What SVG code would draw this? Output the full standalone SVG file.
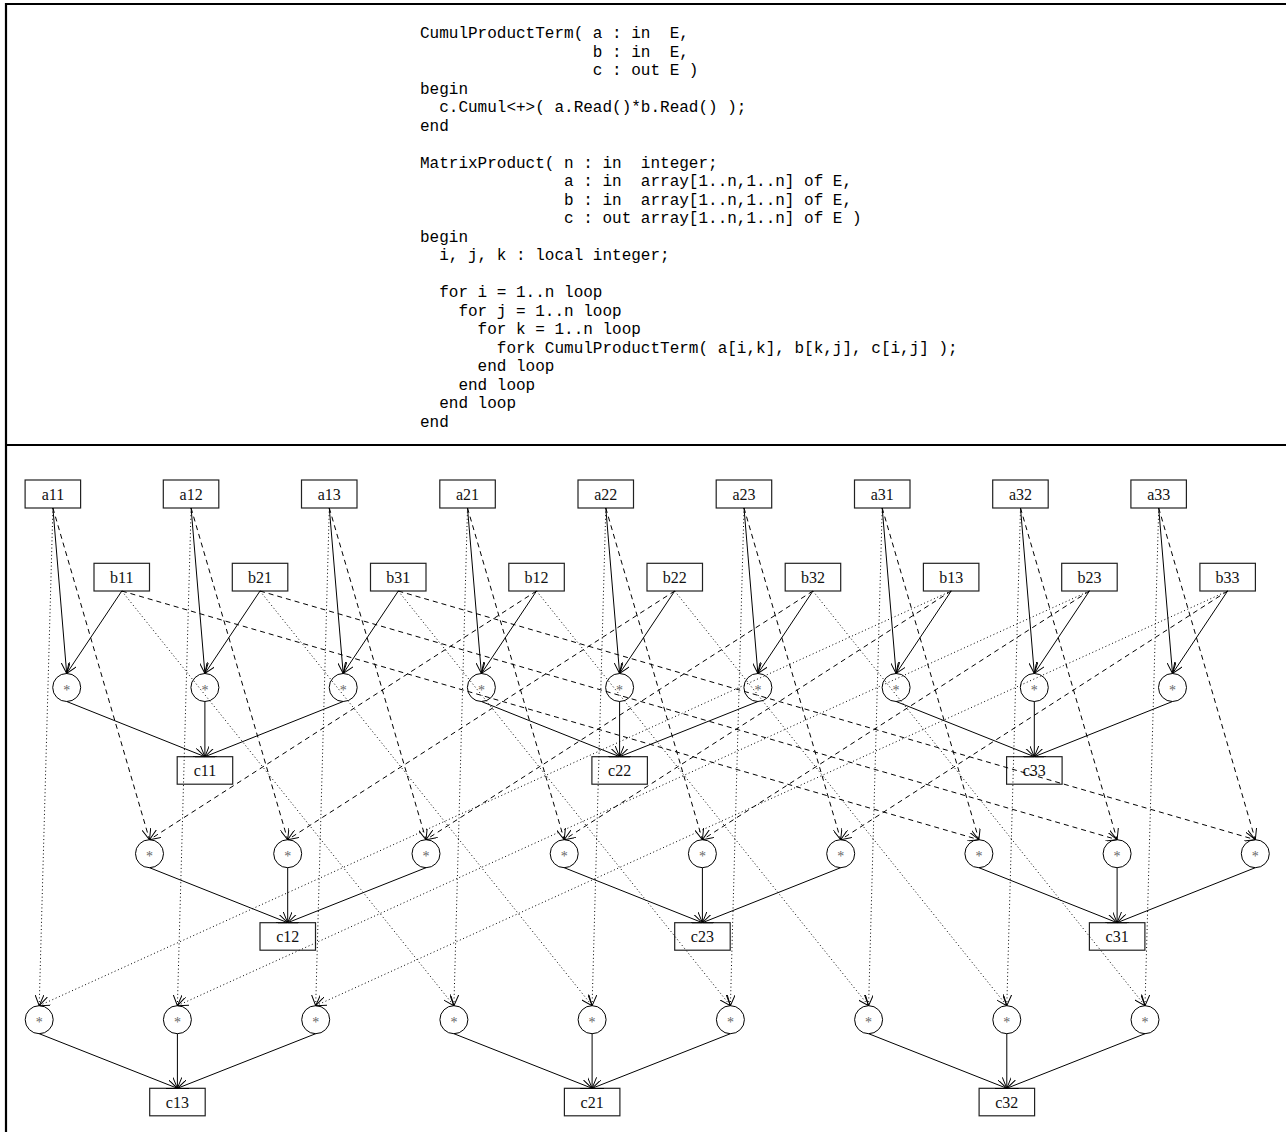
<svg xmlns="http://www.w3.org/2000/svg" width="1286" height="1132" viewBox="0 0 1286 1132" xml:space="preserve">
<style>
.frame{stroke:#000;stroke-width:2.2;fill:none}
.code{font-family:"Liberation Mono","Courier New",monospace;font-size:16px;fill:#000;white-space:pre}
.box{fill:none;stroke:#222;stroke-width:1.2}
.circ{fill:none;stroke:#000;stroke-width:1}
.lbl{font-family:"Liberation Serif","Times New Roman",serif;font-size:16px;fill:#111;text-anchor:middle}
.ast{font-family:"Liberation Serif","Times New Roman",serif;font-size:14px;fill:#666;text-anchor:middle}
.e{fill:none;stroke:#000;stroke-width:1;marker-end:url(#ah)}
.dash{stroke-dasharray:5,4}
.dot{stroke-dasharray:1,2.6}
</style>
<defs>
<marker id="ah" viewBox="0 0 11 9" refX="11" refY="4.5" markerWidth="11" markerHeight="9" markerUnits="userSpaceOnUse" orient="auto">
<path d="M0,0 L11,4.5 L0,9" fill="none" stroke="#000" stroke-width="1" stroke-dasharray="none"/>
</marker>
</defs>
<rect width="1286" height="1132" fill="#fff"/>
<g id="frame">
<path class="frame" d="M6,1132 V4 H1286 M6,445 H1286"/>
</g>
<g id="code">
<text class="code" xml:space="preserve" x="420" y="38">CumulProductTerm( a : in  E,</text>
<text class="code" xml:space="preserve" x="420" y="56.5">                  b : in  E,</text>
<text class="code" xml:space="preserve" x="420" y="75">                  c : out E )</text>
<text class="code" xml:space="preserve" x="420" y="93.5">begin</text>
<text class="code" xml:space="preserve" x="420" y="112">  c.Cumul&lt;+&gt;( a.Read()*b.Read() );</text>
<text class="code" xml:space="preserve" x="420" y="130.5">end</text>
<text class="code" xml:space="preserve" x="420" y="167.5">MatrixProduct( n : in  integer;</text>
<text class="code" xml:space="preserve" x="420" y="186">               a : in  array[1..n,1..n] of E,</text>
<text class="code" xml:space="preserve" x="420" y="204.5">               b : in  array[1..n,1..n] of E,</text>
<text class="code" xml:space="preserve" x="420" y="223">               c : out array[1..n,1..n] of E )</text>
<text class="code" xml:space="preserve" x="420" y="241.5">begin</text>
<text class="code" xml:space="preserve" x="420" y="260">  i, j, k : local integer;</text>
<text class="code" xml:space="preserve" x="420" y="297">  for i = 1..n loop</text>
<text class="code" xml:space="preserve" x="420" y="315.5">    for j = 1..n loop</text>
<text class="code" xml:space="preserve" x="420" y="334">      for k = 1..n loop</text>
<text class="code" xml:space="preserve" x="420" y="352.5">        fork CumulProductTerm( a[i,k], b[k,j], c[i,j] );</text>
<text class="code" xml:space="preserve" x="420" y="371">      end loop</text>
<text class="code" xml:space="preserve" x="420" y="389.5">    end loop</text>
<text class="code" xml:space="preserve" x="420" y="408">  end loop</text>
<text class="code" xml:space="preserve" x="420" y="426.5">end</text>
</g>
<g id="a11"><rect class="box" x="25.1" y="480" width="55.5" height="28"/><text class="lbl" x="52.9" y="499.5">a11</text></g>
<g id="a12"><rect class="box" x="163.3" y="480" width="55.5" height="28"/><text class="lbl" x="191.1" y="499.5">a12</text></g>
<g id="a13"><rect class="box" x="301.5" y="480" width="55.5" height="28"/><text class="lbl" x="329.3" y="499.5">a13</text></g>
<g id="a21"><rect class="box" x="439.8" y="480" width="55.5" height="28"/><text class="lbl" x="467.5" y="499.5">a21</text></g>
<g id="a22"><rect class="box" x="578.0" y="480" width="55.5" height="28"/><text class="lbl" x="605.8" y="499.5">a22</text></g>
<g id="a23"><rect class="box" x="716.2" y="480" width="55.5" height="28"/><text class="lbl" x="744.0" y="499.5">a23</text></g>
<g id="a31"><rect class="box" x="854.5" y="480" width="55.5" height="28"/><text class="lbl" x="882.2" y="499.5">a31</text></g>
<g id="a32"><rect class="box" x="992.7" y="480" width="55.5" height="28"/><text class="lbl" x="1020.5" y="499.5">a32</text></g>
<g id="a33"><rect class="box" x="1130.9" y="480" width="55.5" height="28"/><text class="lbl" x="1158.7" y="499.5">a33</text></g>
<g id="b11"><rect class="box" x="94.0" y="563.3" width="55.5" height="27.7"/><text class="lbl" x="121.8" y="582.7">b11</text></g>
<g id="b21"><rect class="box" x="232.3" y="563.3" width="55.5" height="27.7"/><text class="lbl" x="260.0" y="582.7">b21</text></g>
<g id="b31"><rect class="box" x="370.5" y="563.3" width="55.5" height="27.7"/><text class="lbl" x="398.3" y="582.7">b31</text></g>
<g id="b12"><rect class="box" x="508.8" y="563.3" width="55.5" height="27.7"/><text class="lbl" x="536.5" y="582.7">b12</text></g>
<g id="b22"><rect class="box" x="647.0" y="563.3" width="55.5" height="27.7"/><text class="lbl" x="674.7" y="582.7">b22</text></g>
<g id="b32"><rect class="box" x="785.2" y="563.3" width="55.5" height="27.7"/><text class="lbl" x="812.9" y="582.7">b32</text></g>
<g id="b13"><rect class="box" x="923.4" y="563.3" width="55.5" height="27.7"/><text class="lbl" x="951.2" y="582.7">b13</text></g>
<g id="b23"><rect class="box" x="1061.7" y="563.3" width="55.5" height="27.7"/><text class="lbl" x="1089.4" y="582.7">b23</text></g>
<g id="b33"><rect class="box" x="1199.9" y="563.3" width="55.5" height="27.7"/><text class="lbl" x="1227.6" y="582.7">b33</text></g>
<g id="m1_1"><circle class="circ" cx="66.7" cy="687.5" r="14"/><text class="ast" x="66.7" y="694.5">*</text></g>
<g id="m1_2"><circle class="circ" cx="204.9" cy="687.5" r="14"/><text class="ast" x="204.9" y="694.5">*</text></g>
<g id="m1_3"><circle class="circ" cx="343.2" cy="687.5" r="14"/><text class="ast" x="343.2" y="694.5">*</text></g>
<g id="m1_4"><circle class="circ" cx="481.4" cy="687.5" r="14"/><text class="ast" x="481.4" y="694.5">*</text></g>
<g id="m1_5"><circle class="circ" cx="619.6" cy="687.5" r="14"/><text class="ast" x="619.6" y="694.5">*</text></g>
<g id="m1_6"><circle class="circ" cx="757.9" cy="687.5" r="14"/><text class="ast" x="757.9" y="694.5">*</text></g>
<g id="m1_7"><circle class="circ" cx="896.1" cy="687.5" r="14"/><text class="ast" x="896.1" y="694.5">*</text></g>
<g id="m1_8"><circle class="circ" cx="1034.3" cy="687.5" r="14"/><text class="ast" x="1034.3" y="694.5">*</text></g>
<g id="m1_9"><circle class="circ" cx="1172.5" cy="687.5" r="14"/><text class="ast" x="1172.5" y="694.5">*</text></g>
<g id="m2_1"><circle class="circ" cx="149.5" cy="853.7" r="14"/><text class="ast" x="149.5" y="860.7">*</text></g>
<g id="m2_2"><circle class="circ" cx="287.7" cy="853.7" r="14"/><text class="ast" x="287.7" y="860.7">*</text></g>
<g id="m2_3"><circle class="circ" cx="426.0" cy="853.7" r="14"/><text class="ast" x="426.0" y="860.7">*</text></g>
<g id="m2_4"><circle class="circ" cx="564.2" cy="853.7" r="14"/><text class="ast" x="564.2" y="860.7">*</text></g>
<g id="m2_5"><circle class="circ" cx="702.4" cy="853.7" r="14"/><text class="ast" x="702.4" y="860.7">*</text></g>
<g id="m2_6"><circle class="circ" cx="840.7" cy="853.7" r="14"/><text class="ast" x="840.7" y="860.7">*</text></g>
<g id="m2_7"><circle class="circ" cx="978.9" cy="853.7" r="14"/><text class="ast" x="978.9" y="860.7">*</text></g>
<g id="m2_8"><circle class="circ" cx="1117.1" cy="853.7" r="14"/><text class="ast" x="1117.1" y="860.7">*</text></g>
<g id="m2_9"><circle class="circ" cx="1255.3" cy="853.7" r="14"/><text class="ast" x="1255.3" y="860.7">*</text></g>
<g id="m3_1"><circle class="circ" cx="39.2" cy="1019.7" r="14"/><text class="ast" x="39.2" y="1026.7">*</text></g>
<g id="m3_2"><circle class="circ" cx="177.4" cy="1019.7" r="14"/><text class="ast" x="177.4" y="1026.7">*</text></g>
<g id="m3_3"><circle class="circ" cx="315.7" cy="1019.7" r="14"/><text class="ast" x="315.7" y="1026.7">*</text></g>
<g id="m3_4"><circle class="circ" cx="453.9" cy="1019.7" r="14"/><text class="ast" x="453.9" y="1026.7">*</text></g>
<g id="m3_5"><circle class="circ" cx="592.1" cy="1019.7" r="14"/><text class="ast" x="592.1" y="1026.7">*</text></g>
<g id="m3_6"><circle class="circ" cx="730.4" cy="1019.7" r="14"/><text class="ast" x="730.4" y="1026.7">*</text></g>
<g id="m3_7"><circle class="circ" cx="868.6" cy="1019.7" r="14"/><text class="ast" x="868.6" y="1026.7">*</text></g>
<g id="m3_8"><circle class="circ" cx="1006.8" cy="1019.7" r="14"/><text class="ast" x="1006.8" y="1026.7">*</text></g>
<g id="m3_9"><circle class="circ" cx="1145.0" cy="1019.7" r="14"/><text class="ast" x="1145.0" y="1026.7">*</text></g>
<g id="c11"><rect class="box" x="177.2" y="756.7" width="55.5" height="27.5"/><text class="lbl" x="204.9" y="776">c11</text></g>
<g id="c22"><rect class="box" x="591.9" y="756.7" width="55.5" height="27.5"/><text class="lbl" x="619.6" y="776">c22</text></g>
<g id="c33"><rect class="box" x="1006.6" y="756.7" width="55.5" height="27.5"/><text class="lbl" x="1034.3" y="776">c33</text></g>
<g id="c12"><rect class="box" x="260.0" y="922.7" width="55.5" height="27.5"/><text class="lbl" x="287.7" y="942">c12</text></g>
<g id="c23"><rect class="box" x="674.7" y="922.7" width="55.5" height="27.5"/><text class="lbl" x="702.4" y="942">c23</text></g>
<g id="c31"><rect class="box" x="1089.4" y="922.7" width="55.5" height="27.5"/><text class="lbl" x="1117.1" y="942">c31</text></g>
<g id="c13"><rect class="box" x="149.7" y="1088.3" width="55.5" height="27.5"/><text class="lbl" x="177.4" y="1107.6">c13</text></g>
<g id="c21"><rect class="box" x="564.4" y="1088.3" width="55.5" height="27.5"/><text class="lbl" x="592.1" y="1107.6">c21</text></g>
<g id="c32"><rect class="box" x="979.1" y="1088.3" width="55.5" height="27.5"/><text class="lbl" x="1006.8" y="1107.6">c32</text></g>
<g id="connectors">
<path class="e" d="M52.9,508 L66.7,673.5"/>
<path class="e" d="M191.1,508 L204.9,673.5"/>
<path class="e" d="M329.3,508 L343.2,673.5"/>
<path class="e" d="M467.5,508 L481.4,673.5"/>
<path class="e" d="M605.8,508 L619.6,673.5"/>
<path class="e" d="M744.0,508 L757.9,673.5"/>
<path class="e" d="M882.2,508 L896.1,673.5"/>
<path class="e" d="M1020.5,508 L1034.3,673.5"/>
<path class="e" d="M1158.7,508 L1172.5,673.5"/>
<path class="e dash" d="M52.9,508 L149.5,839.7"/>
<path class="e dash" d="M191.1,508 L287.7,839.7"/>
<path class="e dash" d="M329.3,508 L426.0,839.7"/>
<path class="e dash" d="M467.5,508 L564.2,839.7"/>
<path class="e dash" d="M605.8,508 L702.4,839.7"/>
<path class="e dash" d="M744.0,508 L840.7,839.7"/>
<path class="e dash" d="M882.2,508 L978.9,839.7"/>
<path class="e dash" d="M1020.5,508 L1117.1,839.7"/>
<path class="e dash" d="M1158.7,508 L1255.3,839.7"/>
<path class="e dot" d="M52.9,508 L39.2,1005.7"/>
<path class="e dot" d="M191.1,508 L177.4,1005.7"/>
<path class="e dot" d="M329.3,508 L315.7,1005.7"/>
<path class="e dot" d="M467.5,508 L453.9,1005.7"/>
<path class="e dot" d="M605.8,508 L592.1,1005.7"/>
<path class="e dot" d="M744.0,508 L730.4,1005.7"/>
<path class="e dot" d="M882.2,508 L868.6,1005.7"/>
<path class="e dot" d="M1020.5,508 L1006.8,1005.7"/>
<path class="e dot" d="M1158.7,508 L1145.0,1005.7"/>
<path class="e" d="M121.8,591 L66.7,673.5"/>
<path class="e" d="M260.0,591 L204.9,673.5"/>
<path class="e" d="M398.3,591 L343.2,673.5"/>
<path class="e" d="M536.5,591 L481.4,673.5"/>
<path class="e" d="M674.7,591 L619.6,673.5"/>
<path class="e" d="M812.9,591 L757.9,673.5"/>
<path class="e" d="M951.2,591 L896.1,673.5"/>
<path class="e" d="M1089.4,591 L1034.3,673.5"/>
<path class="e" d="M1227.6,591 L1172.5,673.5"/>
<path class="e dash" d="M121.8,591 L978.9,839.7"/>
<path class="e dash" d="M260.0,591 L1117.1,839.7"/>
<path class="e dash" d="M398.3,591 L1255.3,839.7"/>
<path class="e dash" d="M536.5,591 L149.5,839.7"/>
<path class="e dash" d="M674.7,591 L287.7,839.7"/>
<path class="e dash" d="M812.9,591 L426.0,839.7"/>
<path class="e dash" d="M951.2,591 L564.2,839.7"/>
<path class="e dash" d="M1089.4,591 L702.4,839.7"/>
<path class="e dash" d="M1227.6,591 L840.7,839.7"/>
<path class="e dot" d="M121.8,591 L453.9,1005.7"/>
<path class="e dot" d="M260.0,591 L592.1,1005.7"/>
<path class="e dot" d="M398.3,591 L730.4,1005.7"/>
<path class="e dot" d="M536.5,591 L868.6,1005.7"/>
<path class="e dot" d="M674.7,591 L1006.8,1005.7"/>
<path class="e dot" d="M812.9,591 L1145.0,1005.7"/>
<path class="e dot" d="M951.2,591 L39.2,1005.7"/>
<path class="e dot" d="M1089.4,591 L177.4,1005.7"/>
<path class="e dot" d="M1227.6,591 L315.7,1005.7"/>
<path class="e" d="M66.7,701.5 L204.9,756.7"/>
<path class="e" d="M204.9,701.5 L204.9,756.7"/>
<path class="e" d="M343.2,701.5 L204.9,756.7"/>
<path class="e" d="M481.4,701.5 L619.6,756.7"/>
<path class="e" d="M619.6,701.5 L619.6,756.7"/>
<path class="e" d="M757.9,701.5 L619.6,756.7"/>
<path class="e" d="M896.1,701.5 L1034.3,756.7"/>
<path class="e" d="M1034.3,701.5 L1034.3,756.7"/>
<path class="e" d="M1172.5,701.5 L1034.3,756.7"/>
<path class="e" d="M149.5,867.7 L287.7,922.7"/>
<path class="e" d="M287.7,867.7 L287.7,922.7"/>
<path class="e" d="M426.0,867.7 L287.7,922.7"/>
<path class="e" d="M564.2,867.7 L702.4,922.7"/>
<path class="e" d="M702.4,867.7 L702.4,922.7"/>
<path class="e" d="M840.7,867.7 L702.4,922.7"/>
<path class="e" d="M978.9,867.7 L1117.1,922.7"/>
<path class="e" d="M1117.1,867.7 L1117.1,922.7"/>
<path class="e" d="M1255.3,867.7 L1117.1,922.7"/>
<path class="e" d="M39.2,1033.7 L177.4,1088.3"/>
<path class="e" d="M177.4,1033.7 L177.4,1088.3"/>
<path class="e" d="M315.7,1033.7 L177.4,1088.3"/>
<path class="e" d="M453.9,1033.7 L592.1,1088.3"/>
<path class="e" d="M592.1,1033.7 L592.1,1088.3"/>
<path class="e" d="M730.4,1033.7 L592.1,1088.3"/>
<path class="e" d="M868.6,1033.7 L1006.8,1088.3"/>
<path class="e" d="M1006.8,1033.7 L1006.8,1088.3"/>
<path class="e" d="M1145.0,1033.7 L1006.8,1088.3"/>
</g>
</svg>
